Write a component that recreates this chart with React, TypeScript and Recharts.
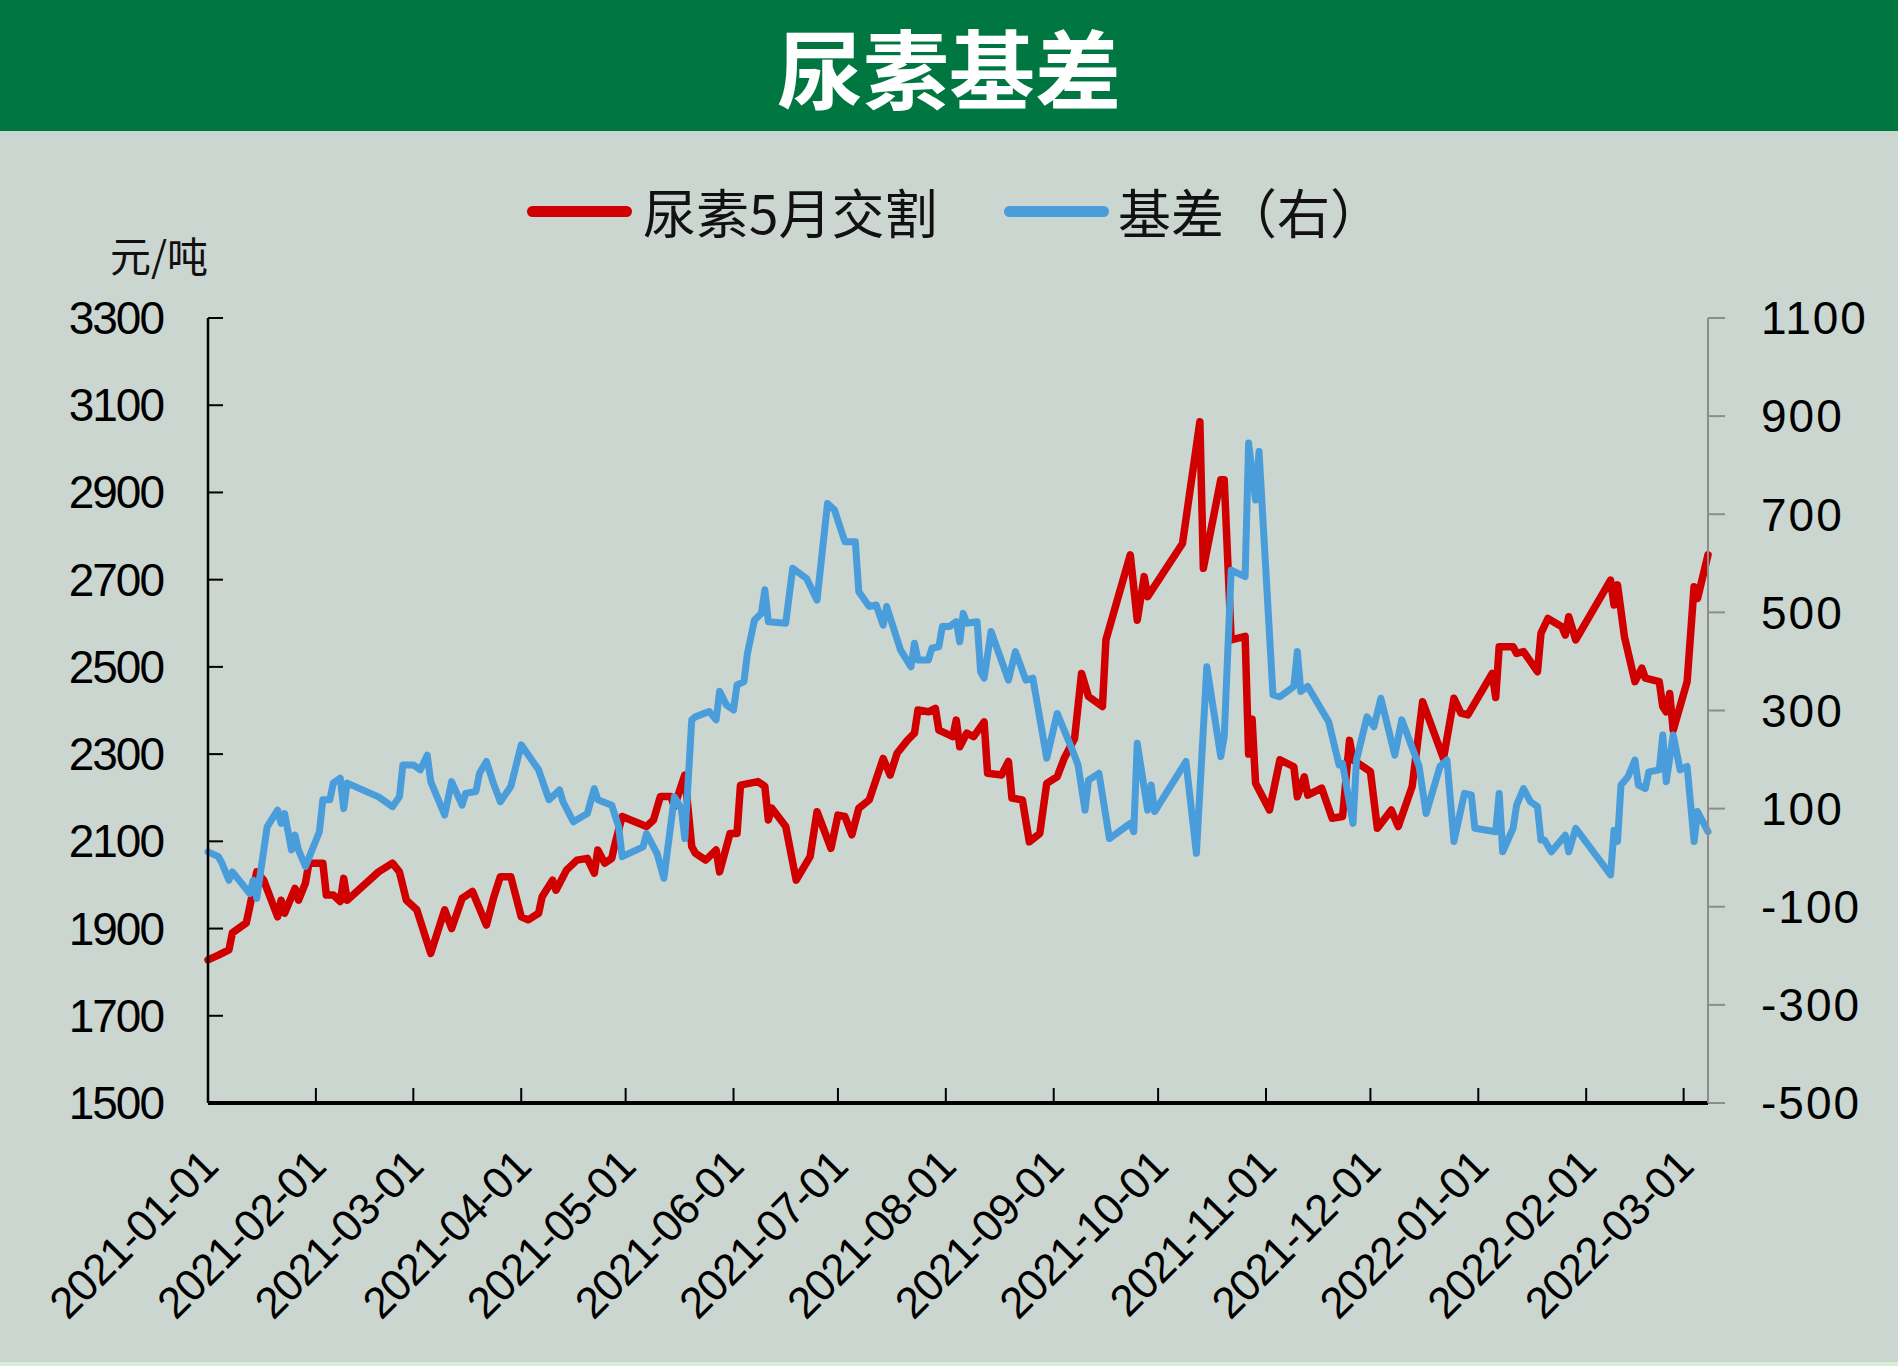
import { LineChart, Line, XAxis, YAxis } from "recharts";

// 尿素5月合约收盘价（元/吨，左轴）
const priceDates = [
  "2021-01-01", "2021-01-04", "2021-01-07", "2021-01-08", "2021-01-12", "2021-01-13", "2021-01-15",
  "2021-01-17", "2021-01-21", "2021-01-22", "2021-01-23", "2021-01-26", "2021-01-27", "2021-01-29",
  "2021-01-30", "2021-02-03", "2021-02-04", "2021-02-06", "2021-02-08", "2021-02-09", "2021-02-10",
  "2021-02-19", "2021-02-23", "2021-02-25", "2021-02-27", "2021-03-02", "2021-03-06", "2021-03-08",
  "2021-03-10", "2021-03-12", "2021-03-15", "2021-03-18", "2021-03-22", "2021-03-24", "2021-03-26",
  "2021-03-29", "2021-04-01", "2021-04-03", "2021-04-06", "2021-04-07", "2021-04-10", "2021-04-11",
  "2021-04-14", "2021-04-17", "2021-04-20", "2021-04-22", "2021-04-23", "2021-04-25", "2021-04-27",
  "2021-04-28", "2021-04-30", "2021-05-07", "2021-05-09", "2021-05-11", "2021-05-14", "2021-05-15",
  "2021-05-18", "2021-05-20", "2021-05-21", "2021-05-24", "2021-05-27", "2021-05-28", "2021-05-31",
  "2021-06-02", "2021-06-03", "2021-06-08", "2021-06-10", "2021-06-11", "2021-06-12", "2021-06-16",
  "2021-06-19", "2021-06-23", "2021-06-25", "2021-06-29", "2021-07-01", "2021-07-03", "2021-07-05",
  "2021-07-07", "2021-07-10", "2021-07-14", "2021-07-16", "2021-07-18", "2021-07-21", "2021-07-23",
  "2021-07-24", "2021-07-27", "2021-07-29", "2021-07-30", "2021-08-03", "2021-08-04", "2021-08-05",
  "2021-08-07", "2021-08-09", "2021-08-12", "2021-08-13", "2021-08-17", "2021-08-19", "2021-08-20",
  "2021-08-23", "2021-08-25", "2021-08-28", "2021-08-30", "2021-09-02", "2021-09-04", "2021-09-07",
  "2021-09-09", "2021-09-11", "2021-09-15", "2021-09-16", "2021-09-23", "2021-09-25", "2021-09-27",
  "2021-09-28", "2021-10-08", "2021-10-13", "2021-10-14", "2021-10-19", "2021-10-20", "2021-10-22",
  "2021-10-26", "2021-10-27", "2021-10-28", "2021-10-29", "2021-11-02", "2021-11-05", "2021-11-09",
  "2021-11-10", "2021-11-12", "2021-11-13", "2021-11-17", "2021-11-20", "2021-11-23", "2021-11-25",
  "2021-11-26", "2021-12-01", "2021-12-03", "2021-12-07", "2021-12-09", "2021-12-13", "2021-12-16",
  "2021-12-22", "2021-12-25", "2021-12-27", "2021-12-29", "2022-01-05", "2022-01-06", "2022-01-07",
  "2022-01-11", "2022-01-12", "2022-01-14", "2022-01-18", "2022-01-19", "2022-01-21", "2022-01-25",
  "2022-01-26", "2022-01-27", "2022-01-29", "2022-02-08", "2022-02-09", "2022-02-10", "2022-02-12",
  "2022-02-15", "2022-02-17", "2022-02-18", "2022-02-22", "2022-02-23", "2022-02-24", "2022-02-25",
  "2022-02-26", "2022-03-02", "2022-03-04", "2022-03-05", "2022-03-08",
];
const priceValues = [
  1828, 1839, 1851, 1890, 1913, 1950, 2030,
  2011, 1927, 1965, 1935, 1992, 1965, 2004,
  2050, 2050, 1977, 1977, 1962, 2015, 1965,
  2030, 2050, 2030, 1965, 1943, 1843, 1893,
  1943, 1900, 1969, 1985, 1908, 1969, 2019,
  2019, 1927, 1920, 1935, 1973, 2011, 1988,
  2034, 2057, 2061, 2027, 2080, 2050, 2061,
  2096, 2157, 2134, 2149, 2203, 2203, 2180,
  2252, 2088, 2073, 2057, 2080, 2030, 2118,
  2118, 2229, 2237, 2226, 2149, 2176, 2134,
  2011, 2065, 2168, 2084, 2160, 2157, 2115,
  2176, 2195, 2290, 2252, 2302, 2332, 2348,
  2401, 2397, 2405, 2355, 2340, 2378, 2317,
  2348, 2340, 2374, 2256, 2252, 2283, 2199,
  2195, 2099, 2118, 2233, 2248, 2290, 2336,
  2485, 2432, 2409, 2562, 2757, 2607, 2707,
  2661, 2783, 3062, 2726, 2929, 2929, 2562,
  2570, 2300, 2380, 2233, 2172, 2287, 2271,
  2202, 2248, 2206, 2222, 2153, 2157, 2332,
  2287, 2260, 2130, 2172, 2134, 2226, 2420,
  2290, 2428, 2394, 2390, 2485, 2430, 2546,
  2546, 2531, 2535, 2489, 2577, 2611, 2592,
  2573, 2615, 2562, 2699, 2642, 2688, 2569,
  2466, 2497, 2474, 2466, 2409, 2397, 2439,
  2355, 2466, 2684, 2657, 2757,
];

// 基差（元/吨，右轴）
const basisDates = [
  "2021-01-01", "2021-01-04", "2021-01-05", "2021-01-07", "2021-01-08", "2021-01-13", "2021-01-14",
  "2021-01-15", "2021-01-18", "2021-01-21", "2021-01-22", "2021-01-23", "2021-01-25", "2021-01-26",
  "2021-01-27", "2021-01-29", "2021-02-02", "2021-02-03", "2021-02-05", "2021-02-06", "2021-02-08",
  "2021-02-09", "2021-02-10", "2021-02-19", "2021-02-23", "2021-02-25", "2021-02-26", "2021-03-01",
  "2021-03-03", "2021-03-05", "2021-03-06", "2021-03-10", "2021-03-12", "2021-03-15", "2021-03-16",
  "2021-03-19", "2021-03-20", "2021-03-22", "2021-03-24", "2021-03-26", "2021-03-29", "2021-04-01",
  "2021-04-06", "2021-04-08", "2021-04-09", "2021-04-12", "2021-04-13", "2021-04-16", "2021-04-20",
  "2021-04-22", "2021-04-23", "2021-04-27", "2021-04-29", "2021-04-30", "2021-05-06", "2021-05-07",
  "2021-05-10", "2021-05-12", "2021-05-15", "2021-05-17", "2021-05-18", "2021-05-20", "2021-05-21",
  "2021-05-25", "2021-05-27", "2021-05-28", "2021-05-30", "2021-06-01", "2021-06-02", "2021-06-04",
  "2021-06-05", "2021-06-07", "2021-06-09", "2021-06-10", "2021-06-11", "2021-06-16", "2021-06-18",
  "2021-06-22", "2021-06-25", "2021-06-28", "2021-06-30", "2021-07-03", "2021-07-06", "2021-07-07",
  "2021-07-10", "2021-07-12", "2021-07-14", "2021-07-15", "2021-07-19", "2021-07-22", "2021-07-23",
  "2021-07-24", "2021-07-27", "2021-07-28", "2021-07-30", "2021-07-31", "2021-08-02", "2021-08-04",
  "2021-08-05", "2021-08-06", "2021-08-07", "2021-08-10", "2021-08-11", "2021-08-12", "2021-08-14",
  "2021-08-19", "2021-08-21", "2021-08-24", "2021-08-26", "2021-08-30", "2021-09-02", "2021-09-04",
  "2021-09-06", "2021-09-08", "2021-09-10", "2021-09-11", "2021-09-14", "2021-09-17", "2021-09-23",
  "2021-09-24", "2021-09-25", "2021-09-28", "2021-09-29", "2021-09-30", "2021-10-09", "2021-10-12",
  "2021-10-15", "2021-10-19", "2021-10-20", "2021-10-22", "2021-10-26", "2021-10-27", "2021-10-29",
  "2021-10-30", "2021-11-03", "2021-11-05", "2021-11-09", "2021-11-10", "2021-11-11", "2021-11-13",
  "2021-11-17", "2021-11-19", "2021-11-22", "2021-11-23", "2021-11-26", "2021-11-27", "2021-11-30",
  "2021-12-02", "2021-12-04", "2021-12-08", "2021-12-10", "2021-12-15", "2021-12-17", "2021-12-21",
  "2021-12-23", "2021-12-25", "2021-12-28", "2021-12-30", "2021-12-31", "2022-01-06", "2022-01-07",
  "2022-01-08", "2022-01-11", "2022-01-12", "2022-01-14", "2022-01-16", "2022-01-18", "2022-01-19",
  "2022-01-20", "2022-01-22", "2022-01-26", "2022-01-27", "2022-01-29", "2022-02-08", "2022-02-09",
  "2022-02-10", "2022-02-11", "2022-02-13", "2022-02-15", "2022-02-16", "2022-02-18", "2022-02-19",
  "2022-02-22", "2022-02-23", "2022-02-24", "2022-02-26", "2022-02-28", "2022-03-02", "2022-03-04",
  "2022-03-05", "2022-03-08",
];
const basisValues = [
  12, 2, -11, -46, -29, -73, -46,
  -83, 63, 97, 70, 90, 16, 46,
  16, -18, 53, 118, 118, 152, 162,
  100, 152, 124, 104, 124, 189, 189,
  179, 209, 155, 87, 155, 107, 131,
  135, 172, 196, 152, 114, 145, 230,
  179, 138, 118, 138, 114, 73, 90,
  141, 118, 107, 63, 2, 22, 49,
  9, -42, 124, 100, 39, 281, 287,
  298, 281, 339, 311, 301, 352, 359,
  416, 484, 498, 546, 481, 478, 590,
  569, 525, 722, 709, 644, 644, 542,
  512, 515, 474, 512, 423, 389, 437,
  403, 403, 427, 430, 471, 471, 481,
  440, 498, 478, 481, 379, 366, 461,
  362, 420, 362, 366, 203, 294, 260,
  226, 189, 97, 158, 172, 39, 70,
  53, 233, 97, 148, 94, 196, 9,
  389, 206, 247, 586, 573, 845, 729,
  828, 332, 328, 349, 420, 339, 349,
  301, 277, 189, 192, 70, 199, 287,
  267, 325, 209, 281, 186, 90, 186,
  199, 33, 131, 128, 60, 53, 131,
  12, 60, 107, 141, 114, 104, 36,
  36, 12, 46, 12, 60, -35, 56,
  33, 148, 165, 199, 148, 141, 175,
  179, 250, 155, 250, 179, 186, 33,
  94, 53,
];

const monthTicks = [
  "2021-01-01", "2021-02-01", "2021-03-01", "2021-04-01", "2021-05-01",
  "2021-06-01", "2021-07-01", "2021-08-01", "2021-09-01", "2021-10-01",
  "2021-11-01", "2021-12-01", "2022-01-01", "2022-02-01", "2022-03-01",
];
const leftTicks = [1500, 1700, 1900, 2100, 2300, 2500, 2700, 2900, 3100, 3300];
const rightTicks = [-500, -300, -100, 100, 300, 500, 700, 900, 1100];

const FONT_CN = '"Noto Sans CJK SC", "Noto Sans", sans-serif';
const FONT_NUM = '"Liberation Sans", Arial, sans-serif';
const BG = "#cbd6d0";
const GREEN = "#007641";
const RED = "#d10000";
const BLUE = "#4a9ddb";

const toTime = (s: string) => Date.parse(s);
const fmtDate = (t: number) => new Date(t).toISOString().slice(0, 10);

const priceData = priceDates.map((d, i) => ({ t: toTime(d), v: priceValues[i] }));
const basisData = basisDates.map((d, i) => ({ t: toTime(d), v: basisValues[i] }));

// left axis: ticks point into the plot
const LeftTick = ({ x, y, payload }: any) => {
  const ax = x + 45;
  return (
    <g>
      <line x1={ax} y1={y} x2={ax + 15} y2={y} stroke="#000" strokeWidth={2} />
      <text
        x={x}
        y={y}
        dy={16}
        textAnchor="end"
        fontFamily={FONT_NUM}
        fontSize={46}
        letterSpacing={-2}
        fill="#000"
      >
        {payload.value}
      </text>
    </g>
  );
};

// bottom axis: short ticks upward, labels at 45 degrees
const DateTick = ({ x, y, payload }: any) => {
  const tx = x + 12;
  const ty = y + 66;
  return (
    <g>
      <line x1={x} y1={y} x2={x} y2={y - 15} stroke="#000" strokeWidth={2} />
      <text
        x={tx}
        y={ty}
        textAnchor="end"
        transform={`rotate(-45 ${tx} ${ty})`}
        fontFamily={FONT_NUM}
        fontSize={44}
        letterSpacing={-1}
        fill="#000"
      >
        {fmtDate(payload.value)}
      </text>
    </g>
  );
};

export default function App() {
  return (
    <div
      style={{
        position: "absolute",
        left: 0,
        top: 0,
        width: 1898,
        height: 1366,
        background: BG,
        overflow: "hidden",
      }}
    >
      <div
        style={{
          position: "absolute",
          left: 0,
          top: 0,
          width: 1898,
          height: 131,
          background: GREEN,
          color: "#fff",
          fontFamily: FONT_CN,
          fontWeight: 700,
          fontSize: 86,
          lineHeight: "131px",
          textAlign: "center",
        }}
      >
        尿素基差
      </div>

      {/* legend */}
      <div style={{ position: "absolute", left: 527, top: 206, width: 105, height: 11, borderRadius: 6, background: RED }} />
      <div
        style={{ position: "absolute", left: 643, top: 178, fontFamily: FONT_CN, fontSize: 53, lineHeight: "66px", color: "#111" }}
      >
        尿素5月交割
      </div>
      <div style={{ position: "absolute", left: 1004, top: 206, width: 105, height: 11, borderRadius: 6, background: BLUE }} />
      <div
        style={{ position: "absolute", left: 1118, top: 178, fontFamily: FONT_CN, fontSize: 53, lineHeight: "66px", color: "#111" }}
      >
        基差（右）
      </div>

      <div
        style={{ position: "absolute", left: 110, top: 229, fontFamily: FONT_CN, fontSize: 41, lineHeight: "50px", color: "#111" }}
      >
        元/吨
      </div>

      <div style={{ position: "absolute", left: 0, top: 1362, width: 1898, height: 4, background: "#d6f0d6" }} />

      <div style={{ position: "absolute", left: 0, top: 0 }}>
        <LineChart width={1898} height={1366} margin={{ top: 318, right: 0, bottom: 63, left: 48 }}>
          <XAxis
            type="number"
            dataKey="t"
            domain={[toTime("2021-01-01"), toTime("2022-03-08")]}
            ticks={monthTicks.map(toTime)}
            allowDuplicatedCategory={false}
            height={200}
            axisLine={{ stroke: "#000", strokeWidth: 4 }}
            tickLine={false}
            tickSize={0}
            tickMargin={0}
            tick={<DateTick />}
            interval={0}
          />
          <YAxis
            yAxisId="left"
            orientation="left"
            domain={[1500, 3300]}
            ticks={leftTicks}
            width={160}
            axisLine={{ stroke: "#000", strokeWidth: 2.5 }}
            tickLine={false}
            tickSize={0}
            tickMargin={45}
            tick={<LeftTick />}
            interval={0}
          />
          <YAxis
            yAxisId="right"
            orientation="right"
            domain={[-500, 1100]}
            ticks={rightTicks}
            width={190}
            axisLine={{ stroke: "#8c8c8c", strokeWidth: 2 }}
            tickLine={{ stroke: "#8c8c8c", strokeWidth: 2 }}
            tickSize={17}
            tickMargin={36}
            tick={{ fill: "#000", fontSize: 46, fontFamily: FONT_NUM, letterSpacing: 2 }}
            interval={0}
          />
          <Line
            yAxisId="left"
            data={priceData}
            dataKey="v"
            type="linear"
            stroke={RED}
            strokeWidth={7.5}
            strokeLinejoin="round"
            strokeLinecap="round"
            dot={false}
            isAnimationActive={false}
          />
          <Line
            yAxisId="right"
            data={basisData}
            dataKey="v"
            type="linear"
            stroke={BLUE}
            strokeWidth={7}
            strokeLinejoin="round"
            strokeLinecap="round"
            dot={false}
            isAnimationActive={false}
          />
        </LineChart>
      </div>
    </div>
  );
}
